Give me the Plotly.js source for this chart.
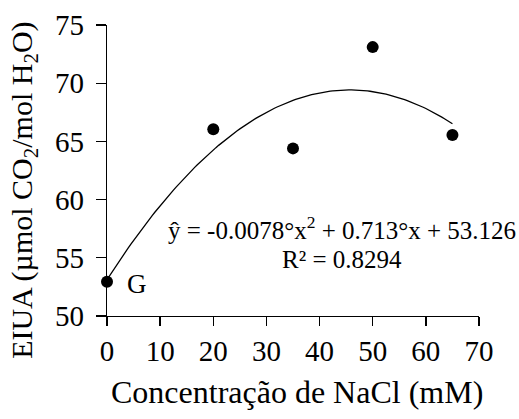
<!DOCTYPE html>
<html>
<head>
<meta charset="utf-8">
<script src="https://cdn.plot.ly/plotly-3.0.1.min.js"></script>
<style>html,body{margin:0;padding:0;background:#fff;}#chart{width:519px;height:419px;}</style>
</head>
<body>
<div id="chart"></div>
<script>
// Observed data
var concentration = [0, 20, 35, 50, 65];
var eiua = [52.95, 66.05, 64.4, 73.1, 65.55];
// Quadratic trendline coefficients shown on the chart (a x^2 + b x + c)
var fitCoef = [-0.0078, 0.713, 53.126];
var fitRange = [0, 65];
var xTicks = [0, 10, 20, 30, 40, 50, 60, 70];
var yTicks = [50, 55, 60, 65, 70, 75];
var xTitle = "Concentração de NaCl (mM)";
var yTitle = "EIUA (µmol CO<sub>2</sub>/mol H<sub>2</sub>O)";
var equationText = "ŷ = -0.0078°x<sup>2</sup> + 0.713°x + 53.126";
var r2Text = "R² = 0.8294";
var pointLabel = "G";

var fitX = [], fitY = [];
for (var i = 0; i <= 130; i++) {
  var x = fitRange[0] + (fitRange[1] - fitRange[0]) * i / 130;
  fitX.push(x);
  fitY.push(fitCoef[0] * x * x + fitCoef[1] * x + fitCoef[2]);
}

var font = "Liberation Serif, Times New Roman, serif";
var data = [
  {x: fitX, y: fitY, mode: "lines", line: {color: "#000", width: 1.3}, hoverinfo: "skip", cliponaxis: false},
  {x: concentration, y: eiua, mode: "markers", marker: {color: "#000", size: 12}, cliponaxis: false}
];
var layout = {
  width: 519, height: 419,
  margin: {l: 107, r: 40, t: 25, b: 103},
  paper_bgcolor: "#fff", plot_bgcolor: "#fff",
  showlegend: false,
  font: {family: font, color: "#000", size: 29},
  xaxis: {
    range: [0, 70], tickvals: xTicks, ticktext: xTicks.map(String),
    showgrid: false, zeroline: false, showline: true, linecolor: "#000", linewidth: 1.3,
    ticks: "outside", ticklen: 9, tickwidth: 1.3, tickcolor: "#000",
    tickfont: {family: font, size: 29, color: "#000"}
  },
  yaxis: {
    range: [50, 75], tickvals: yTicks, ticktext: yTicks.map(function (v) { return String(v) + "\u2009"; }),
    showgrid: false, zeroline: false, showline: true, linecolor: "#000", linewidth: 1.3,
    ticks: "outside", ticklen: 10, tickwidth: 1.3, tickcolor: "#000",
    tickfont: {family: font, size: 29, color: "#000"}
  },
  annotations: [
    {x: 0.51, y: -0.262, xref: "paper", yref: "paper", text: xTitle, showarrow: false,
     font: {family: font, size: 32, color: "#000"}, xanchor: "center", yanchor: "middle"},
    {x: 0, y: 0.43, xref: "paper", yref: "paper", text: yTitle, showarrow: false, textangle: -90,
     font: {family: font, size: 30, color: "#000"}, xanchor: "center", yanchor: "middle"},
    {x: 44.2, y: 57.6, xref: "x", yref: "y", text: equationText, showarrow: false,
     font: {family: font, size: 25, color: "#000"}, xanchor: "center", yanchor: "middle"},
    {x: 44.2, y: 54.85, xref: "x", yref: "y", text: r2Text, showarrow: false,
     font: {family: font, size: 25, color: "#000"}, xanchor: "center", yanchor: "middle"},
    {x: 3.3, y: 52.75, xref: "x", yref: "y", text: pointLabel, showarrow: false,
     font: {family: font, size: 27, color: "#000"}, xanchor: "left", yanchor: "middle"}
  ]
};
// y title positioned in pixels from the left edge of the figure
layout.annotations[1].x = (24 - layout.margin.l) / (layout.width - layout.margin.l - layout.margin.r);
Plotly.newPlot("chart", data, layout, {displayModeBar: false, staticPlot: true});
</script>
</body>
</html>
